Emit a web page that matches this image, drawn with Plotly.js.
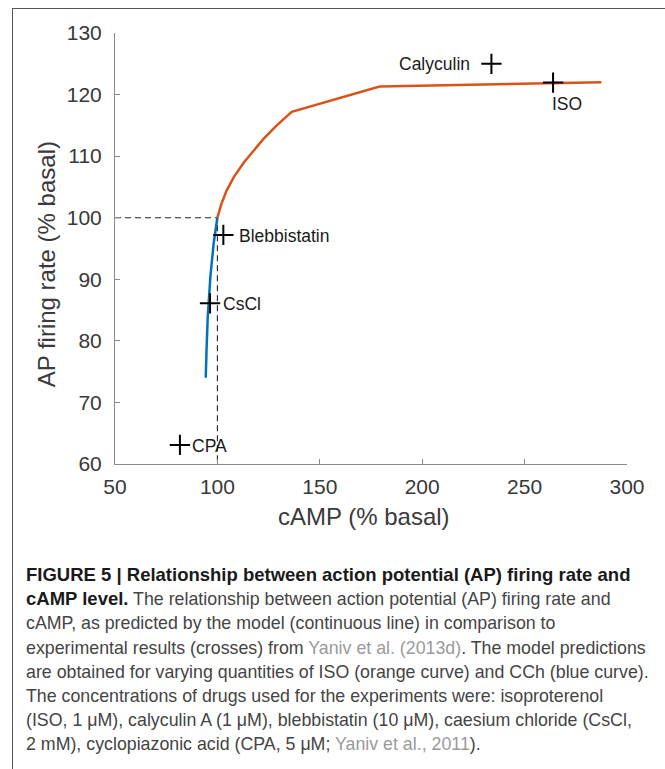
<!DOCTYPE html>
<html>
<head>
<meta charset="utf-8">
<script src="https://cdn.plot.ly/plotly-3.0.1.min.js"></script>
<style>
  html, body { margin: 0; padding: 0; background: #fff; width: 665px; height: 769px; overflow: hidden; }
  #frame { position: absolute; left: 12px; top: 8px; width: 700px; height: 800px;
           border-left: 1px solid #555; border-top: 1px solid #555; box-sizing: border-box; }
  #plot { position: absolute; left: 0; top: 0; width: 665px; height: 545px; }
  #caption { position: absolute; left: 26px; top: 563px; font-family: "Liberation Sans", Arial, sans-serif;
             font-size: 17.8px; line-height: 24.2px; color: #444; white-space: nowrap; }
  #caption b { color: #1a1a1a; font-size: 18.5px; }
  #caption .ref { color: #9a9a9a; }
</style>
</head>
<body>
<div id="frame"></div>
<div id="plot"></div>
<div id="caption">
<b>FIGURE 5 | Relationship between action potential (AP) firing rate and</b><br>
<b>cAMP level.</b> The relationship between action potential (AP) firing rate and<br>
cAMP, as predicted by the model (continuous line) in comparison to<br>
experimental results (crosses) from <span class="ref">Yaniv et al. (2013d)</span>. The model predictions<br>
are obtained for varying quantities of ISO (orange curve) and CCh (blue curve).<br>
The concentrations of drugs used for the experiments were: isoproterenol<br>
(ISO, 1 μM), calyculin A (1 μM), blebbistatin (10 μM), caesium chloride (CsCl,<br>
2 mM), cyclopiazonic acid (CPA, 5 μM; <span class="ref">Yaniv et al., 2011</span>).
</div>
<script>
// ---- data ----
const isoX = [100, 102, 104.5, 108, 113, 118, 122.5, 129, 136.3, 179.2, 287.5];
const isoY = [100, 102.3, 104.4, 106.6, 109.0, 111.0, 112.8, 115.0, 117.2, 121.3, 122.0];
const cchX = [100, 99.1, 98.2, 96.6, 95.3, 94.7, 94.3];
const cchY = [100, 97.8, 95.9, 90.5, 84.0, 78.6, 74.0];
const expNames = ["Calyculin", "ISO", "Blebbistatin", "CsCl", "CPA"];
const expX = [233.8, 263.9, 102.9, 96.4, 81.7];
const expY = [125.0, 121.95, 97.2, 86.1, 63.1];
const refX = [50, 100, 100];
const refY = [100, 100, 60];
const xTicks = [50, 100, 150, 200, 250, 300];
const yTicks = [60, 70, 80, 90, 100, 110, 120, 130];
const xTitle = "cAMP (% basal)";
const yTitle = "AP firing rate (% basal)";

// ---- label placement (styling) ----
const labelPlace = {
  "Calyculin":    {xanchor: "right", xshift: -19, yshift: 0},
  "ISO":          {xanchor: "left",  xshift: -3,  yshift: -21},
  "Blebbistatin": {xanchor: "left",  xshift: 14,  yshift: -1},
  "CsCl":         {xanchor: "left",  xshift: 11,  yshift: -1},
  "CPA":          {xanchor: "left",  xshift: 10,  yshift: -1}
};

const FONT = "Liberation Sans, Arial, sans-serif";

const traces = [
  {x: refX, y: refY, mode: "lines", line: {color: "#222", width: 1.1, dash: "6px,4px"}, hoverinfo: "skip"},
  {x: cchX, y: cchY, mode: "lines", line: {color: "#0072BD", width: 2.5}, name: "CCh"},
  {x: isoX, y: isoY, mode: "lines", line: {color: "#D95319", width: 2.5}, name: "ISO"},
  {x: expX, y: expY, mode: "markers", text: expNames, cliponaxis: false,
   marker: {symbol: "cross-thin", size: 14.5, color: "#000", line: {color: "#000", width: 2}}}
];

const annotations = expNames.map((n, i) => Object.assign({
  x: expX[i], y: expY[i], xref: "x", yref: "y", text: n, showarrow: false,
  yanchor: "middle", font: {family: FONT, size: 17.5, color: "#1a1a1a"}
}, labelPlace[n]));

annotations.push({
  xref: "paper", yref: "paper", x: 0.486, y: -0.121, xanchor: "center", yanchor: "middle",
  text: xTitle, showarrow: false, font: {family: FONT, size: 24, color: "#3a3a3a"}
});
annotations.push({
  xref: "paper", yref: "paper", x: -0.1335, y: 0.4624, xanchor: "center", yanchor: "middle",
  text: yTitle, textangle: -90, showarrow: false, font: {family: FONT, size: 24, color: "#3a3a3a"}
});

const axisCommon = {
  showline: true, linecolor: "#8a8a8a", linewidth: 1, ticks: "inside", ticklen: 5,
  tickcolor: "#8a8a8a", tickwidth: 1, showgrid: false, zeroline: false,
  tickfont: {family: FONT, size: 21, color: "#383838"}, fixedrange: true
};

const layout = {
  width: 665, height: 545,
  margin: {l: 115, r: 37.7, t: 33.3, b: 80.7},
  paper_bgcolor: "rgba(0,0,0,0)", plot_bgcolor: "rgba(0,0,0,0)",
  showlegend: false,
  xaxis: Object.assign({}, axisCommon, {range: [50, 300], tickvals: xTicks, ticktext: xTicks.map(String), ticklabelstandoff: 4}),
  yaxis: Object.assign({}, axisCommon, {range: [60, 130], tickvals: yTicks, ticktext: yTicks.map(String), ticklabelstandoff: 8}),
  annotations: annotations
};

Plotly.newPlot("plot", traces, layout, {staticPlot: true, displayModeBar: false});
</script>
</body>
</html>
